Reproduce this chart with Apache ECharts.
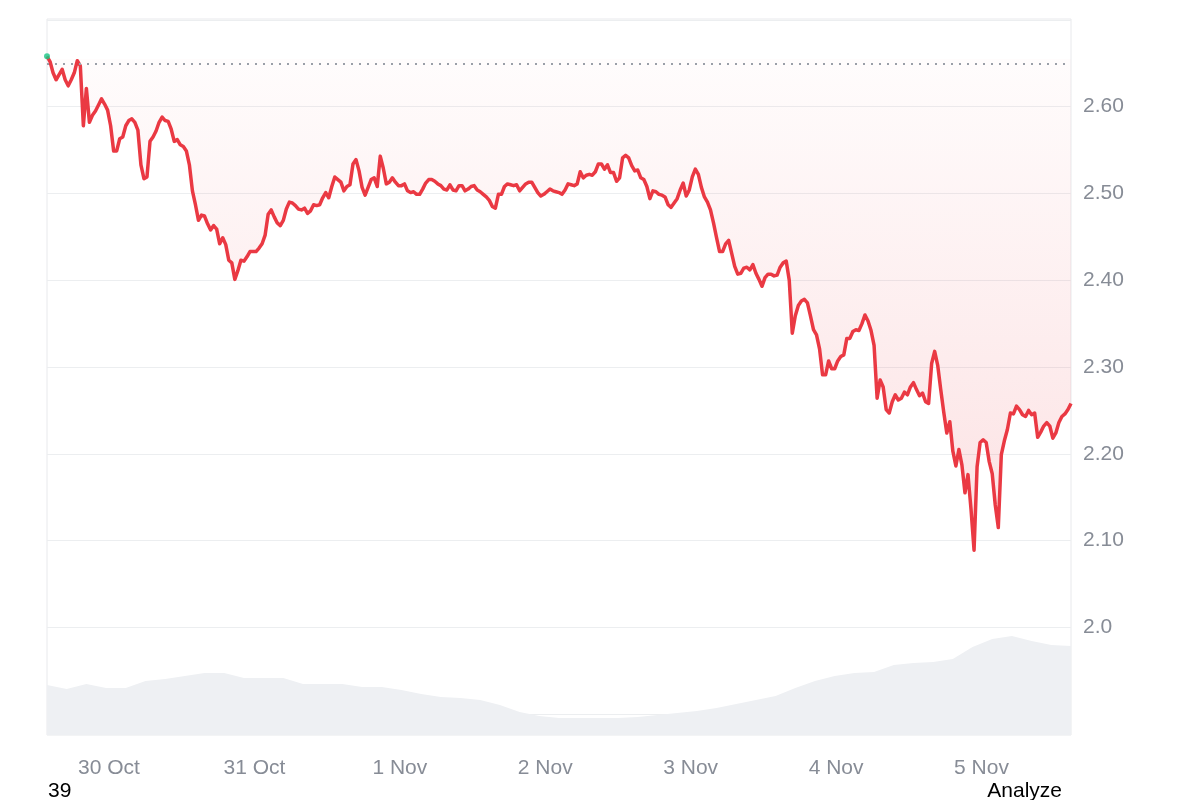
<!DOCTYPE html>
<html>
<head>
<meta charset="utf-8">
<script src="https://cdn.jsdelivr.net/npm/echarts@6/dist/echarts.min.js"></script>
<style>
  html, body { margin: 0; padding: 0; background: #ffffff; }
  #chart { width: 1200px; height: 800px; }
</style>
</head>
<body>
<div id="chart"></div>
<script>
// ---- data ----
const startTime = Date.UTC(2025, 9, 29, 13, 46);   // first price sample (UTC)
const priceStepMinutes = 30;
const priceValues = [
  2.658, 2.652, 2.639, 2.631, 2.637, 2.643, 2.631, 2.624, 2.631, 2.639,
  2.653, 2.647, 2.578, 2.621, 2.582, 2.590, 2.595, 2.602, 2.609, 2.603,
  2.596, 2.578, 2.549, 2.549, 2.563, 2.565, 2.578, 2.584, 2.586, 2.582,
  2.573, 2.533, 2.517, 2.519, 2.560, 2.565, 2.572, 2.582, 2.588, 2.584,
  2.583, 2.574, 2.560, 2.562, 2.556, 2.554, 2.549, 2.533, 2.503, 2.487,
  2.469, 2.475, 2.474, 2.465, 2.458, 2.463, 2.459, 2.442, 2.449, 2.441,
  2.423, 2.420, 2.401, 2.411, 2.423, 2.422, 2.427, 2.433, 2.433, 2.433,
  2.437, 2.442, 2.452, 2.476, 2.481, 2.473, 2.466, 2.463, 2.469, 2.482,
  2.490, 2.489, 2.486, 2.482, 2.481, 2.483, 2.477, 2.480, 2.487, 2.486,
  2.487, 2.495, 2.501, 2.495, 2.508, 2.519, 2.516, 2.513, 2.503, 2.508,
  2.510, 2.534, 2.539, 2.526, 2.507, 2.498, 2.507, 2.516, 2.518, 2.508,
  2.543, 2.529, 2.511, 2.513, 2.518, 2.513, 2.509, 2.509, 2.511, 2.503,
  2.501, 2.502, 2.499, 2.499, 2.505, 2.512, 2.516, 2.516, 2.514, 2.511,
  2.509, 2.505, 2.504, 2.510, 2.504, 2.503, 2.509, 2.509, 2.503, 2.505,
  2.508, 2.509, 2.504, 2.502, 2.499, 2.496, 2.492, 2.485, 2.483, 2.499,
  2.499, 2.508, 2.511, 2.510, 2.509, 2.510, 2.503, 2.507, 2.511, 2.513,
  2.513, 2.507, 2.501, 2.497, 2.499, 2.502, 2.505, 2.503, 2.502, 2.501,
  2.499, 2.504, 2.511, 2.510, 2.509, 2.511, 2.525, 2.518, 2.521, 2.522,
  2.521, 2.525, 2.534, 2.534, 2.528, 2.533, 2.524, 2.524, 2.514, 2.518,
  2.541, 2.544, 2.541, 2.532, 2.526, 2.527, 2.518, 2.516, 2.508, 2.494,
  2.503, 2.502, 2.499, 2.498, 2.496, 2.487, 2.484, 2.489, 2.494, 2.504,
  2.512, 2.497, 2.504, 2.519, 2.528, 2.522, 2.507, 2.496, 2.490, 2.481,
  2.466, 2.449, 2.433, 2.433, 2.442, 2.446, 2.431, 2.416, 2.407, 2.408,
  2.414, 2.415, 2.412, 2.418, 2.408, 2.401, 2.393, 2.403, 2.407, 2.407,
  2.405, 2.406, 2.415, 2.420, 2.422, 2.400, 2.339, 2.359, 2.371, 2.376,
  2.378, 2.374, 2.359, 2.343, 2.337, 2.321, 2.291, 2.291, 2.307, 2.298,
  2.298, 2.307, 2.312, 2.314, 2.333, 2.333, 2.341, 2.343, 2.342, 2.350,
  2.360, 2.353, 2.342, 2.325, 2.264, 2.285, 2.277, 2.251, 2.247, 2.260,
  2.268, 2.262, 2.264, 2.271, 2.268, 2.277, 2.282, 2.274, 2.267, 2.270,
  2.260, 2.258, 2.304, 2.318, 2.302, 2.274, 2.248, 2.224, 2.237, 2.203,
  2.186, 2.205, 2.187, 2.155, 2.176, 2.136, 2.089, 2.185, 2.213, 2.216,
  2.213, 2.191, 2.177, 2.141, 2.115, 2.199, 2.215, 2.228, 2.247, 2.246,
  2.255, 2.251, 2.245, 2.243, 2.250, 2.245, 2.247, 2.219, 2.225, 2.232,
  2.236, 2.232, 2.218, 2.224, 2.236, 2.243, 2.246, 2.251, 2.258
];
const openPrice = 2.655;        // reference (opening) price, dotted line

// 24h volume, billions USD, sampled every 3h15m from startTime
const volumeStepMinutes = 195;
const volumeValues = [
  3.00, 2.76, 3.06, 2.82, 2.82, 3.24, 3.36, 3.54, 3.72, 3.72,
  3.42, 3.42, 3.42, 3.06, 3.06, 3.06, 2.88, 2.88, 2.70, 2.46,
  2.28, 2.22, 2.10, 1.80, 1.38, 1.14, 1.02, 1.02, 1.02, 1.02,
  1.08, 1.20, 1.32, 1.44, 1.62, 1.86, 2.10, 2.34, 2.82, 3.24,
  3.54, 3.72, 3.78, 4.20, 4.32, 4.38, 4.56, 5.28, 5.76, 5.94,
  5.64, 5.40, 5.34
];

const priceTicks = [2.0, 2.1, 2.2, 2.3, 2.4, 2.5, 2.6];
const priceTickLabels = ['2.0', '2.10', '2.20', '2.30', '2.40', '2.50', '2.60'];
const dayTicks = ['2025-10-30', '2025-10-31', '2025-11-01', '2025-11-02', '2025-11-03', '2025-11-04', '2025-11-05'];
const dayLabels = ['30 Oct', '31 Oct', '1 Nov', '2 Nov', '3 Nov', '4 Nov', '5 Nov'];

const cornerLeftText = '39';
const cornerRightText = 'Analyze';

// ---- build ----
const MIN = 60 * 1000;
const DAY = 24 * 60 * MIN;
const priceData = priceValues.map((v, i) => [startTime + i * priceStepMinutes * MIN, v]);
const volumeData = volumeValues.map((v, i) => [startTime + i * volumeStepMinutes * MIN, v]);
const endTime = startTime + (priceValues.length - 1) * priceStepMinutes * MIN;

const FONT = "'Liberation Sans', Arial, Helvetica, sans-serif";
const LABEL_COLOR = '#878c96';
const RED = '#ea3943';
const GREEN = '#16c784';

const chart = echarts.init(document.getElementById('chart'), null, { renderer: 'canvas' });

chart.setOption({
  animation: false,
  useUTC: true,
  backgroundColor: '#ffffff',
  textStyle: { fontFamily: FONT },
  grid: {
    left: 47, right: 129, top: 19, bottom: 65,
    show: true, borderColor: '#e8e9ec', borderWidth: 1, backgroundColor: 'transparent'
  },
  xAxis: {
    type: 'time',
    min: startTime,
    max: endTime,
    minInterval: DAY,
    maxInterval: DAY,
    axisLine: { show: false },
    axisTick: { show: false },
    splitLine: { show: false },
    axisLabel: {
      color: LABEL_COLOR,
      fontSize: 21,
      fontFamily: FONT,
      margin: 23,
      hideOverlap: false,
      formatter: function (value) {
        const d = new Date(value);
        if (d.getUTCHours() !== 0 || d.getUTCMinutes() !== 0) return '';
        const key = d.getUTCFullYear() + '-' + String(d.getUTCMonth() + 1).padStart(2, '0') + '-' + String(d.getUTCDate()).padStart(2, '0');
        const idx = dayTicks.indexOf(key);
        return idx >= 0 ? dayLabels[idx] : '';
      }
    }
  },
  yAxis: [
    {
      type: 'value',
      position: 'right',
      min: 1.876,
      max: 2.701,
      minInterval: 0.1,
      maxInterval: 0.1,
      axisLine: { show: false },
      axisTick: { show: false },
      splitLine: { show: true, showMinLine: false, showMaxLine: false, lineStyle: { color: '#eceef0', width: 1 } },
      axisLabel: {
        color: LABEL_COLOR,
        fontSize: 21,
        fontFamily: FONT,
        margin: 12,
        showMinLabel: false,
        showMaxLabel: false,
        formatter: function (value) {
          for (let i = 0; i < priceTicks.length; i++) {
            if (Math.abs(priceTicks[i] - value) < 1e-6) return priceTickLabels[i];
          }
          return '';
        }
      }
    },
    {
      type: 'value',
      min: 0,
      max: 43,
      show: false,
      splitLine: { show: false }
    }
  ],
  series: [
    {
      name: 'Volume',
      type: 'line',
      yAxisIndex: 1,
      data: volumeData,
      showSymbol: false,
      symbol: 'none',
      lineStyle: { width: 0 },
      areaStyle: { color: '#eef0f3', opacity: 1 },
      silent: true,
      z: 1
    },
    {
      name: 'Price',
      type: 'line',
      yAxisIndex: 0,
      data: priceData,
      showSymbol: false,
      symbol: 'none',
      lineStyle: { color: RED, width: 3.5, join: 'round' },
      itemStyle: { color: RED },
      areaStyle: {
        origin: openPrice,
        color: new echarts.graphic.LinearGradient(0, 0, 0, 1, [
          { offset: 0, color: 'rgba(234,57,67,0.02)' },
          { offset: 1, color: 'rgba(234,57,67,0.21)' }
        ])
      },
      markLine: {
        silent: true,
        symbol: 'none',
        label: { show: false },
        lineStyle: { color: '#9a9fa8', width: 2, type: [2, 6] },
        data: [{ yAxis: openPrice }]
      },
      z: 3
    },
    {
      name: 'Open',
      type: 'scatter',
      yAxisIndex: 0,
      data: [priceData[0]],
      symbol: 'circle',
      symbolSize: 6,
      itemStyle: { color: GREEN },
      silent: true,
      z: 4
    }
  ],
  graphic: [
    {
      type: 'text', left: 48, top: 781,
      style: { text: cornerLeftText, fontSize: 21, fontFamily: FONT, fill: '#000000' }
    },
    {
      type: 'text', right: 138, top: 781,
      style: { text: cornerRightText, fontSize: 21, fontFamily: FONT, fill: '#000000' }
    }
  ]
});
</script>
</body>
</html>
